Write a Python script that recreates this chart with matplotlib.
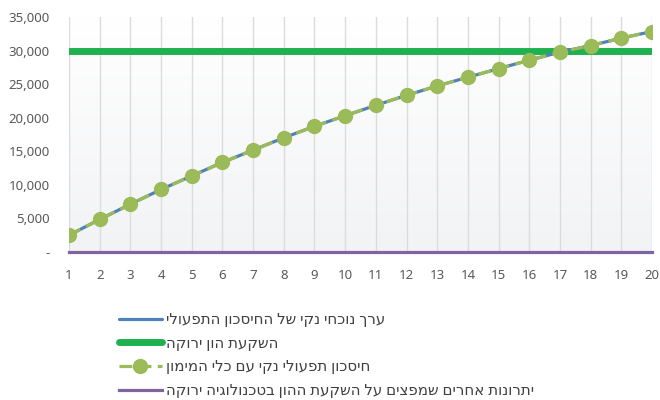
import numpy as np
import matplotlib
matplotlib.use("Agg")
import matplotlib.pyplot as plt
from matplotlib.ticker import FuncFormatter

plt.rcParams['font.family'] = ['Noto Sans', 'DejaVu Sans']

# data
years = list(range(1, 21))
net_savings = [2500, 4850, 7120, 9310, 11340, 13340, 15180, 17010, 18720, 20300,
               21850, 23340, 24730, 26030, 27310, 28570, 29760, 30750, 31850, 32840]
green_investment = [30000] * 20
other_benefits = [0] * 20

labels = [
    "ערך נוכחי נקי של החיסכון התפעולי",
    "השקעת הון ירוקה",
    "חיסכון תפעולי נקי עם כלי המימון",
    "יתרונות אחרים שמפצים על השקעת ההון בטכנולוגיה ירוקה",
]


def rtl(s):
    # matplotlib has no bidi support, so flip Hebrew for display
    return s[::-1]


fig = plt.figure(figsize=(6.6, 4.0), dpi=100)
ax = fig.add_axes([69 / 660, 1 - 252 / 400, (652 - 69) / 660, (252 - 17) / 400])

ax.set_xlim(1, 20)
ax.set_ylim(0, 35000)

# gradient background in the plot area
grad = np.linspace(0, 1, 256).reshape(-1, 1)
cmap = matplotlib.colors.LinearSegmentedColormap.from_list("bg", ["#f2f3f5", "#ffffff"])
ax.imshow(grad, extent=(1, 20, 0, 35000), origin="lower", aspect="auto", cmap=cmap, zorder=0)

for x in years:
    ax.axvline(x, color="#dcdcdc", lw=1, zorder=1)

l1, = ax.plot(years, net_savings, color="#4f81bd", lw=2.3, zorder=3, solid_capstyle="round")
l2, = ax.plot(years, green_investment, color="#1fb14f", lw=5, zorder=2, solid_capstyle="round")
l3, = ax.plot(years, net_savings, color="#9bbb59", lw=2.3, ls=(0, (4, 2)), marker="o",
              markersize=10, markerfacecolor="#9bbb59", markeredgecolor="#9bbb59", zorder=4)
l4, = ax.plot(years, other_benefits, color="#8064a2", lw=2.3, zorder=3, clip_on=False)

ax.set_xticks(years)
ax.set_yticks(range(0, 35001, 5000))
ax.yaxis.set_major_formatter(FuncFormatter(lambda v, p: "-" if v == 0 else "{:,.0f}".format(v)))
ax.tick_params(axis="x", length=0, pad=12, labelsize=9.5, labelcolor="#595959")
ax.tick_params(axis="y", length=0, pad=14, labelsize=9.5, labelcolor="#595959")
for s in ax.spines.values():
    s.set_visible(False)

fig.legend([l1, l2, l3, l4], [rtl(t) for t in labels], loc="upper left",
           bbox_to_anchor=(119 / 660, 1 - 313 / 400), frameon=False, fontsize=10.8,
           handlelength=2.85, handletextpad=0.25, labelspacing=0.58, numpoints=1,
           borderpad=0, borderaxespad=0, labelcolor="#404040")

fig.savefig("out.png", dpi=100)
